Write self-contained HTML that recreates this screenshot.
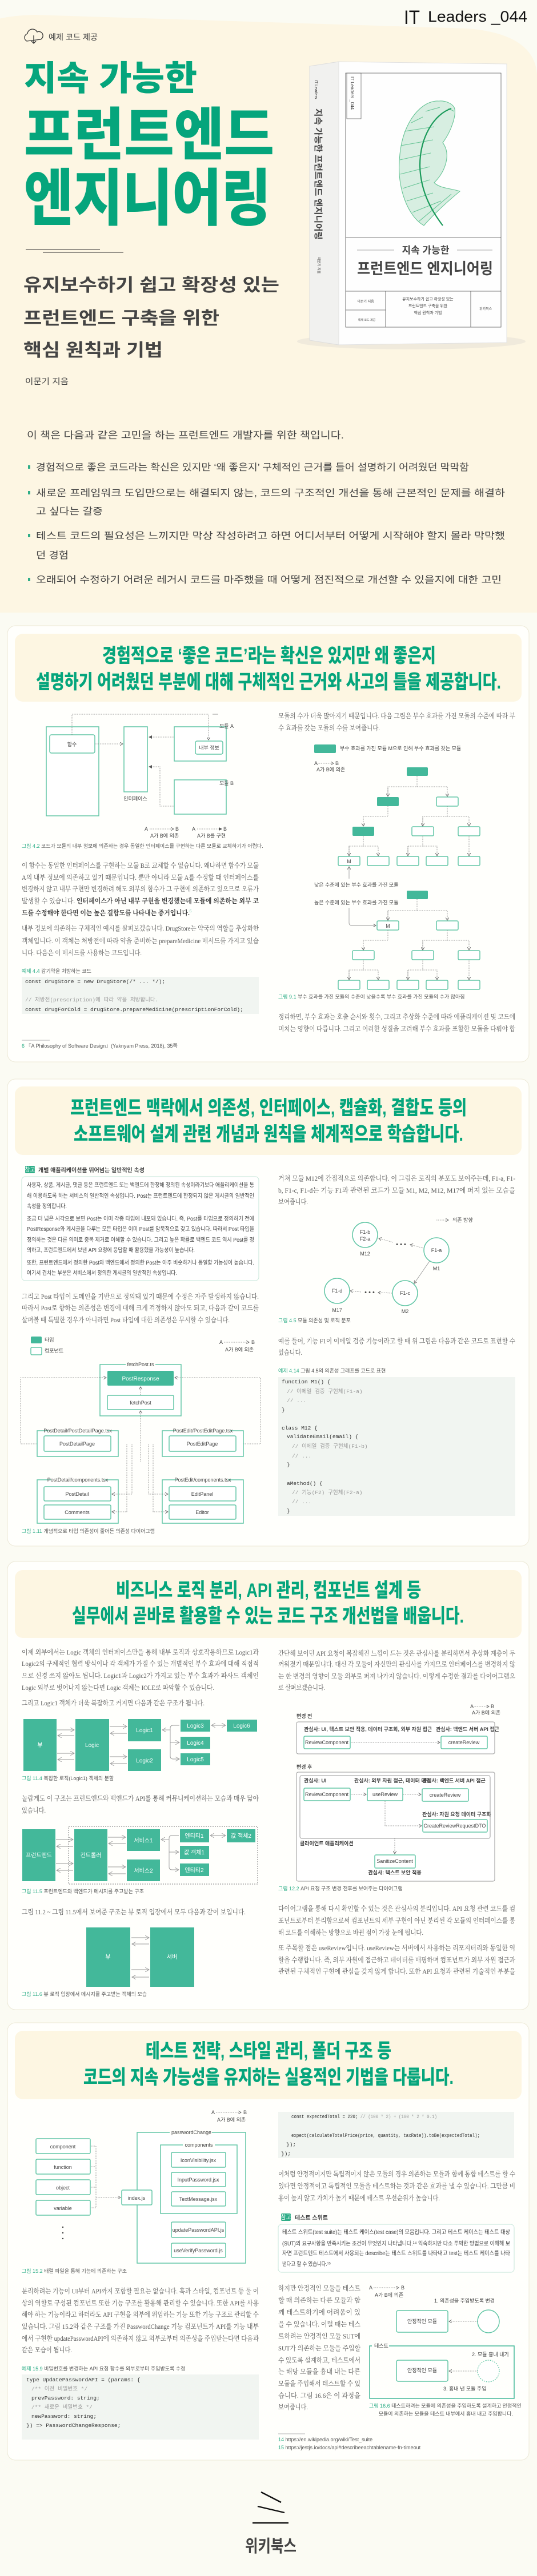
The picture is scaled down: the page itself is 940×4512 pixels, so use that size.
<!DOCTYPE html>
<html><head><meta charset="utf-8">
<style>
html,body{margin:0;padding:0;background:#fbfbf3;}
svg{display:block}
.sr{font-family:"Liberation Serif","Noto Serif CJK SC",serif;font-size:12px;fill:#5a5a5a}
.sn{font-family:"Liberation Sans","Noto Sans CJK KR",sans-serif;fill:#444}
.mo{font-family:"Liberation Mono","Noto Sans CJK KR",monospace;font-size:9.5px;fill:#333}
.cm{fill:#999}
.cap{font-family:"Liberation Sans","Noto Sans CJK KR",sans-serif;font-size:9px;fill:#555}
.g{fill:#2fae88}
.hd{font-family:"Liberation Sans","Noto Sans CJK KR",sans-serif;font-weight:900;fill:#05a57c}
.bx{fill:#fff;stroke:#62c6a6;stroke-width:1.5}
.fl{fill:#43b89a}
.dl{fill:none;stroke:#777;stroke-width:.8;stroke-dasharray:1.5 1.5}
.ln{fill:none;stroke:#999;stroke-width:.9}
.lb{font-family:"Liberation Sans","Noto Sans CJK KR",sans-serif;font-size:9px;fill:#444}
.wt{font-family:"Liberation Sans","Noto Sans CJK KR",sans-serif;font-size:10px;fill:#fff}
</style></head>
<body>
<svg width="940" height="4512" viewBox="0 0 940 4512" xmlns="http://www.w3.org/2000/svg">
<defs>
<marker id="a" viewBox="0 0 6 6" refX="5" refY="3" markerWidth="6" markerHeight="6" orient="auto" markerUnits="userSpaceOnUse"><path d="M0,0 L5,3 L0,6" fill="none" stroke="#666" stroke-width="0.9"/></marker>
<marker id="f" viewBox="0 0 6 6" refX="5" refY="3" markerWidth="6" markerHeight="6" orient="auto" markerUnits="userSpaceOnUse"><path d="M0,0 L6,3 L0,6z" fill="#555"/></marker>
<marker id="b" viewBox="0 0 8 8" refX="7" refY="4" markerWidth="8" markerHeight="8" orient="auto" markerUnits="userSpaceOnUse"><path d="M0,0 L7,4 L0,8" fill="none" stroke="#999" stroke-width="0.9"/></marker>
</defs>

<!-- HERO BACKGROUND -->
<rect x="0" y="0" width="940" height="4512" fill="#fbfbf3"/>
<path d="M-20,40 Q0,28 60,26 L820,50 Q935,60 940,130 L940,1073 L-20,1073 Z" fill="#fdf6e3"/>

<!-- IT Leaders -->
<text x="707" y="42" font-family="Liberation Sans" font-size="34" font-weight="300" fill="#111" textLength="28" lengthAdjust="spacingAndGlyphs">IT</text>
<text x="749" y="38" font-family="Liberation Sans" font-size="27" font-weight="300" fill="#111" textLength="174" lengthAdjust="spacingAndGlyphs">Leaders _044</text>

<!-- cloud icon -->
<path d="M47,72 a7,7 0 0 1 1,-13 a9,9 0 0 1 17,-3 a7,7 0 0 1 6,13 z" fill="none" stroke="#333" stroke-width="1.3"/>
<path d="M59,62 V76 M55,72 L59,76 L63,72" fill="none" stroke="#333" stroke-width="1.3"/>
<text x="85" y="70" class="sn" font-size="14" fill="#333" textLength="86" lengthAdjust="spacingAndGlyphs">예제 코드 제공</text>

<!-- title -->
<text x="42" y="158" class="hd" font-size="60" font-weight="700" textLength="303" lengthAdjust="spacingAndGlyphs">지속 가능한</text>
<text x="42" y="271" class="hd" font-size="100" font-weight="700" textLength="438" lengthAdjust="spacingAndGlyphs">프런트엔드</text>
<text x="42" y="385" class="hd" font-size="108" font-weight="700" textLength="432" lengthAdjust="spacingAndGlyphs">엔지니어링</text>
<line x1="45" y1="437" x2="175" y2="437" stroke="#333" stroke-width="1"/>
<line x1="75" y1="442" x2="216" y2="442" stroke="#333" stroke-width="1"/>
<text x="41" y="510" class="sn" font-size="31" font-weight="700" fill="#222" textLength="448" lengthAdjust="spacingAndGlyphs">유지보수하기 쉽고 확장성 있는</text>
<text x="41" y="568" class="sn" font-size="31" font-weight="700" fill="#222" textLength="343" lengthAdjust="spacingAndGlyphs">프런트엔드 구축을 위한</text>
<text x="41" y="624" class="sn" font-size="31" font-weight="700" fill="#222" textLength="244" lengthAdjust="spacingAndGlyphs">핵심 원칙과 기법</text>
<text x="44" y="673" class="sn" font-size="14" fill="#222" textLength="76" lengthAdjust="spacingAndGlyphs">이문기 지음</text>

<!-- BOOK -->
<ellipse cx="720" cy="598" rx="200" ry="14" fill="#e9e6d8" opacity=".7"/>
<path d="M542,116 L593,108 L593,604 L542,596 Z" fill="#f1f1ef" stroke="#ddd"/>
<path d="M593,108 L887,112 L887,600 L593,604 Z" fill="#fefefe" stroke="#e2e2e2"/>
<rect x="605" y="128" width="272" height="445" fill="none" stroke="#555" stroke-width=".8"/>
<rect x="607" y="128" width="25" height="80" fill="none" stroke="#555" stroke-width=".7"/>
<text transform="translate(614,134) rotate(90)" font-family="Liberation Sans" font-size="8" fill="#333">IT Leaders _044</text>
<text transform="translate(551,140) rotate(90)" font-family="Liberation Sans" font-size="7" fill="#333">IT Leaders</text>
<text transform="translate(552,190) rotate(90)" class="sn" font-size="15" font-weight="700" fill="#222" textLength="230" lengthAdjust="spacingAndGlyphs">지속 가능한 프런트엔드 엔지니어링</text>
<text transform="translate(556,450) rotate(90)" class="sn" font-size="6" fill="#555">이문기 지음</text>
<!-- leaf -->
<g fill="none" stroke="#4cb983" stroke-width="1.1" opacity=".85">
<path d="M768,177 C740,175 706,210 700,270 C693,330 715,380 742,395 C755,380 775,360 805,335 C790,330 770,330 760,320 C780,300 790,270 775,250 C790,230 800,200 795,188 C790,180 778,176 768,177 Z" fill="#a9dcc0" fill-opacity=".55"/>
<path d="M708,230 L760,222 M702,255 L758,245 M700,280 L754,268 M701,305 L752,292 M705,330 L752,315 M712,352 L758,338 M722,372 L772,352 M733,388 L790,340"/>
<path d="M720,215 L740,205 M745,195 L770,188 M785,190 L795,195"/>
</g>
<path d="M790,190 C760,200 735,240 735,290 C736,340 760,375 775,395" fill="none" stroke="#1a9a5a" stroke-width="2.2"/>
<line x1="605" y1="416" x2="877" y2="416" stroke="#555" stroke-width=".8"/>
<line x1="625" y1="438" x2="690" y2="438" stroke="#888" stroke-width=".7"/>
<line x1="800" y1="438" x2="862" y2="438" stroke="#888" stroke-width=".7"/>
<text x="745" y="444" text-anchor="middle" class="sn" font-size="17" font-weight="700" fill="#222">지속 가능한</text>
<text x="625" y="480" class="sn" font-size="27" font-weight="700" fill="#222" textLength="238" lengthAdjust="spacingAndGlyphs">프런트엔드 엔지니어링</text>
<line x1="605" y1="510" x2="877" y2="510" stroke="#555" stroke-width=".8"/>
<line x1="675" y1="510" x2="675" y2="573" stroke="#555" stroke-width=".8"/>
<line x1="824" y1="510" x2="824" y2="573" stroke="#555" stroke-width=".8"/>
<line x1="605" y1="543" x2="675" y2="543" stroke="#555" stroke-width=".8"/>
<text x="640" y="530" text-anchor="middle" class="sn" font-size="6" fill="#333">이문기 지음</text>
<text x="642" y="562" text-anchor="middle" class="sn" font-size="5" fill="#333">예제 코드 제공</text>
<text x="749" y="526" text-anchor="middle" class="sn" font-size="7" fill="#333">유지보수하기 쉽고 확장성 있는</text>
<text x="749" y="538" text-anchor="middle" class="sn" font-size="7" fill="#333">프런트엔드 구축을 위한</text>
<text x="749" y="550" text-anchor="middle" class="sn" font-size="7" fill="#333">핵심 원칙과 기법</text>
<text x="850" y="543" text-anchor="middle" class="sn" font-size="6" fill="#333">위키북스</text>

<!-- INTRO -->
<text x="47" y="768" class="sn" font-size="17" fill="#222" textLength="555" lengthAdjust="spacingAndGlyphs">이 책은 다음과 같은 고민을 하는 프런트엔드 개발자를 위한 책입니다.</text>
<g fill="#2fae88"><rect x="49" y="815" width="4" height="6"/><rect x="49" y="860" width="4" height="6"/><rect x="49" y="935" width="4" height="6"/><rect x="49" y="1012" width="4" height="6"/></g>
<g class="sn" font-size="16.5" fill="#222">
<text x="63" y="824" textLength="758" lengthAdjust="spacingAndGlyphs">경험적으로 좋은 코드라는 확신은 있지만 ‘왜 좋은지’ 구체적인 근거를 들어 설명하기 어려웠던 막막함</text>
<text x="63" y="869" textLength="821" lengthAdjust="spacingAndGlyphs">새로운 프레임워크 도입만으로는 해결되지 않는, 코드의 구조적인 개선을 통해 근본적인 문제를 해결하</text>
<text x="63" y="901" textLength="117" lengthAdjust="spacingAndGlyphs">고 싶다는 갈증</text>
<text x="63" y="944" textLength="821" lengthAdjust="spacingAndGlyphs">테스트 코드의 필요성은 느끼지만 막상 작성하려고 하면 어디서부터 어떻게 시작해야 할지 몰라 막막했</text>
<text x="63" y="978" textLength="57" lengthAdjust="spacingAndGlyphs">던 경험</text>
<text x="63" y="1021" textLength="815" lengthAdjust="spacingAndGlyphs">오래되어 수정하기 어려운 레거시 코드를 마주했을 때 어떻게 점진적으로 개선할 수 있을지에 대한 고민</text>
</g>

<!-- CARDS -->
<g fill="#fffffc" stroke="#ece8d6" stroke-width="1">
<rect x="13" y="1096" width="913" height="764" rx="14"/>
<rect x="13" y="1890" width="913" height="818" rx="14"/>
<rect x="13" y="2735" width="913" height="785" rx="14"/>
<rect x="13" y="3543" width="913" height="766" rx="14"/>
</g>
<g fill="#fdf6e2">
<rect x="26" y="1110" width="887" height="119" rx="14"/>
<rect x="26" y="1903" width="887" height="120" rx="14"/>
<rect x="26" y="2750" width="887" height="119" rx="14"/>
<rect x="26" y="3557" width="887" height="120" rx="14"/>
</g>
<g class="hd" font-size="34">
<text x="179" y="1160" textLength="584" lengthAdjust="spacingAndGlyphs">경험적으로 ‘좋은 코드’라는 확신은 있지만 왜 좋은지</text>
<text x="63" y="1206" textLength="814" lengthAdjust="spacingAndGlyphs">설명하기 어려웠던 부분에 대해 구체적인 근거와 사고의 틀을 제공합니다.</text>
<text x="123" y="1952" textLength="694" lengthAdjust="spacingAndGlyphs">프런트엔드 맥락에서 의존성, 인터페이스, 캡슐화, 결합도 등의</text>
<text x="129" y="1998" textLength="682" lengthAdjust="spacingAndGlyphs">소프트웨어 설계 관련 개념과 원칙을 체계적으로 학습합니다.</text>
<text x="203" y="2797" textLength="534" lengthAdjust="spacingAndGlyphs">비즈니스 로직 분리, API 관리, 컴포넌트 설계 등</text>
<text x="126" y="2842" textLength="686" lengthAdjust="spacingAndGlyphs">실무에서 곧바로 활용할 수 있는 코드 구조 개선법을 배웁니다.</text>
<text x="255" y="3604" textLength="430" lengthAdjust="spacingAndGlyphs">테스트 전략, 스타일 관리, 폴더 구조 등</text>
<text x="146" y="3650" textLength="648" lengthAdjust="spacingAndGlyphs">코드의 지속 가능성을 유지하는 실용적인 기법을 다룹니다.</text>
</g>

<!-- ================= CARD 1 ================= -->
<!-- diagram 4.2 -->
<rect x="81" y="1273" width="92" height="156" class="bx" fill="none"/>
<rect x="87" y="1287" width="79" height="32" rx="3" class="bx"/>
<text x="126" y="1307" text-anchor="middle" class="lb" font-size="10">함수</text>
<rect x="217" y="1273" width="41" height="114" class="bx"/>
<text x="237" y="1402" text-anchor="middle" class="lb">인터페이스</text>
<rect x="305" y="1273" width="91" height="60" class="bx"/>
<line x1="372" y1="1251" x2="382" y2="1251" stroke="#555" stroke-width=".6"/>
<text x="384" y="1275" class="lb">모듈 A</text>
<rect x="342" y="1298" width="48" height="23" rx="3" class="bx"/>
<text x="366" y="1313" text-anchor="middle" class="lb">내부 정보</text>
<rect x="305" y="1366" width="91" height="60" class="bx"/>
<text x="384" y="1375" class="lb">모듈 B</text>
<path d="M166,1303 H215" class="dl" marker-end="url(#a)"/>
<path d="M305,1291 H261" class="dl" marker-end="url(#f)"/>
<path d="M305,1412 H280 V1343 H261" class="dl" marker-end="url(#f)"/>
<path d="M126,1287 V1251 H365 V1296" class="dl" marker-end="url(#a)"/>
<text x="253" y="1455" class="lb">A</text><path d="M262,1452 H304" class="dl" marker-end="url(#a)"/><text x="307" y="1455" class="lb">B</text>
<text x="263" y="1467" class="lb" font-size="8">A가 B에 의존</text>
<text x="336" y="1455" class="lb">A</text><path d="M345,1452 H388" class="dl" marker-end="url(#f)"/><text x="391" y="1455" class="lb">B</text>
<text x="345" y="1467" class="lb" font-size="8">A가 B를 구현</text>
<text x="38" y="1485" class="cap"><tspan class="g">그림 4.2</tspan> 코드가 모듈의 내부 정보에 의존하는 경우 동일한 인터페이스를 구현하는 다른 모듈로 교체하기가 어렵다.</text>

<g class="sr">
<text x="38" y="1520" textLength="415" lengthAdjust="spacingAndGlyphs">이 함수는 동일한 인터페이스를 구현하는 모듈 B로 교체할 수 없습니다. 왜냐하면 함수가 모듈</text>
<text x="38" y="1541" textLength="415" lengthAdjust="spacingAndGlyphs">A의 내부 정보에 의존하고 있기 때문입니다. 뿐만 아니라 모듈 A를 수정할 때 인터페이스를</text>
<text x="38" y="1561" textLength="415" lengthAdjust="spacingAndGlyphs">변경하지 않고 내부 구현만 변경하려 해도 외부의 함수가 그 구현에 의존하고 있으므로 오류가</text>
<text x="38" y="1582" textLength="415" lengthAdjust="spacingAndGlyphs">발생할 수 있습니다. <tspan font-weight="700" fill="#333">인터페이스가 아닌 내부 구현을 변경했는데 모듈에 의존하는 외부 코</tspan></text>
<text x="38" y="1603" textLength="297" lengthAdjust="spacingAndGlyphs"><tspan font-weight="700" fill="#333">드를 수정해야 한다면 이는 높은 결합도를 나타내는 증거입니다.</tspan><tspan class="g" font-size="7" dy="-5">6</tspan></text>
<text x="38" y="1630" textLength="415" lengthAdjust="spacingAndGlyphs">내부 정보에 의존하는 구체적인 예시를 살펴보겠습니다. DrugStore는 약국의 역할을 추상화한</text>
<text x="38" y="1652" textLength="415" lengthAdjust="spacingAndGlyphs">객체입니다. 이 객체는 처방전에 따라 약을 준비하는 prepareMedicine 메서드를 가지고 있습</text>
<text x="38" y="1673" textLength="210" lengthAdjust="spacingAndGlyphs">니다. 다음은 이 메서드를 사용하는 코드입니다.</text>
</g>
<text x="38" y="1704" class="cap"><tspan class="g">예제 4.4</tspan> 감기약을 처방하는 코드</text>
<rect x="38" y="1711" width="415" height="65" fill="#f1f5f1"/>
<text x="44" y="1722" class="mo">const drugStore = new DrugStore(/* ... */);</text>
<text x="44" y="1754" class="mo cm">// 처방전(prescription)에 따라 약을 처방합니다.</text>
<text x="44" y="1771" class="mo">const drugForCold = drugStore.prepareMedicine(prescriptionForCold);</text>
<line x1="38" y1="1822" x2="87" y2="1822" stroke="#ccc" stroke-width="1.5"/>
<text x="38" y="1835" class="cap" font-size="8"><tspan class="g">6</tspan>  『A Philosophy of Software Design』(Yaknyam Press, 2018), 35쪽</text>

<!-- card1 right -->
<g class="sr">
<text x="487" y="1258" textLength="415" lengthAdjust="spacingAndGlyphs">모듈의 수가 더욱 많아지기 때문입니다. 다음 그림은 부수 효과를 가진 모듈의 수준에 따라 부</text>
<text x="487" y="1279" textLength="178" lengthAdjust="spacingAndGlyphs">수 효과를 갖는 모듈의 수를 보여줍니다.</text>
<text x="487" y="1785" textLength="415" lengthAdjust="spacingAndGlyphs">정리하면, 부수 효과는 호출 순서와 횟수, 그리고 추상화 수준에 따라 애플리케이션 및 코드에</text>
<text x="487" y="1806" textLength="415" lengthAdjust="spacingAndGlyphs">미치는 영향이 다릅니다. 그리고 이러한 성질을 고려해 부수 효과를 포함한 모듈을 다뤄야 합</text>
</g>
<rect x="550" y="1304" width="38" height="15" rx="2" class="fl"/>
<text x="595" y="1314" class="lb" font-size="7">부수 효과를 가진 모듈 M으로 인해 부수 효과를 갖는 모듈</text>
<text x="550" y="1340" class="lb" font-size="7">A</text><path d="M556,1337 H584" class="dl" marker-end="url(#a)"/><text x="587" y="1340" class="lb" font-size="7">B</text>
<text x="554" y="1351" class="lb" font-size="7">A가 B에 의존</text>
<!-- tree 1 -->
<g>
<rect x="712" y="1344" width="37" height="15" rx="2" class="fl"/>
<rect x="660" y="1396" width="38" height="16" rx="2" class="fl"/>
<rect x="764" y="1396" width="38" height="16" rx="2" class="bx"/>
<rect x="617" y="1448" width="38" height="16" rx="2" class="fl"/>
<rect x="721" y="1448" width="38" height="16" rx="2" class="bx"/>
<rect x="802" y="1448" width="38" height="16" rx="2" class="bx"/>
<rect x="592" y="1500" width="38" height="16" rx="2" class="bx"/>
<rect x="643" y="1500" width="38" height="16" rx="2" class="bx"/>
<rect x="695" y="1500" width="38" height="16" rx="2" class="bx"/>
<rect x="746" y="1500" width="38" height="16" rx="2" class="bx"/>
<rect x="802" y="1500" width="38" height="16" rx="2" class="bx"/>
<text x="611" y="1512" text-anchor="middle" class="lb">M</text>
<path d="M730,1359 V1378 H679 V1395 M730,1378 H783 V1395" class="dl" marker-end="url(#a)"/>
<path d="M679,1378 V1395" class="dl" marker-end="url(#a)"/>
<path d="M679,1412 V1430 H636 V1447" class="dl" marker-end="url(#a)"/>
<path d="M783,1412 V1430 H740 V1447 M783,1430 H821 V1447" class="dl" marker-end="url(#a)"/>
<path d="M740,1430 V1447" class="dl" marker-end="url(#a)"/>
<path d="M636,1464 V1482 H611 V1499 M636,1482 H662 V1499" class="dl" marker-end="url(#a)"/>
<path d="M611,1482 V1499" class="dl" marker-end="url(#a)"/>
<path d="M740,1464 V1482 H714 V1499 M740,1482 H765 V1499" class="dl" marker-end="url(#a)"/>
<path d="M714,1482 V1499" class="dl" marker-end="url(#a)"/>
<path d="M821,1464 V1499" class="dl" marker-end="url(#a)"/>
<path d="M611,1539 V1518" class="ln" marker-end="url(#a)"/>
<text x="550" y="1553" class="lb" font-size="8">낮은 수준에 있는 부수 효과를 가진 모듈</text>
</g>
<!-- tree 2 -->
<g>
<rect x="712" y="1560" width="37" height="15" rx="2" class="fl"/>
<text x="550" y="1584" class="lb" font-size="8">높은 수준에 있는 부수 효과를 가진 모듈</text>
<rect x="660" y="1613" width="38" height="16" rx="2" class="bx"/>
<text x="679" y="1625" text-anchor="middle" class="lb">M</text>
<rect x="764" y="1613" width="38" height="16" rx="2" class="bx"/>
<rect x="617" y="1665" width="38" height="16" rx="2" class="bx"/>
<rect x="721" y="1665" width="38" height="16" rx="2" class="bx"/>
<rect x="802" y="1665" width="38" height="16" rx="2" class="bx"/>
<rect x="592" y="1717" width="38" height="16" rx="2" class="bx"/>
<rect x="643" y="1717" width="38" height="16" rx="2" class="bx"/>
<rect x="695" y="1717" width="38" height="16" rx="2" class="bx"/>
<rect x="746" y="1717" width="38" height="16" rx="2" class="bx"/>
<rect x="802" y="1717" width="38" height="16" rx="2" class="bx"/>
<path d="M730,1575 V1595 H679 V1612 M730,1595 H783 V1612" class="dl" marker-end="url(#a)"/>
<path d="M679,1595 V1612" class="dl" marker-end="url(#a)"/>
<path d="M679,1629 V1647 H636 V1664" class="dl" marker-end="url(#a)"/>
<path d="M783,1629 V1647 H740 V1664 M783,1647 H821 V1664" class="dl" marker-end="url(#a)"/>
<path d="M740,1647 V1664" class="dl" marker-end="url(#a)"/>
<path d="M636,1681 V1699 H611 V1716 M636,1699 H662 V1716" class="dl" marker-end="url(#a)"/>
<path d="M611,1699 V1716" class="dl" marker-end="url(#a)"/>
<path d="M740,1681 V1699 H714 V1716 M740,1699 H765 V1716" class="dl" marker-end="url(#a)"/>
<path d="M714,1699 V1716" class="dl" marker-end="url(#a)"/>
<path d="M821,1681 V1716" class="dl" marker-end="url(#a)"/>
<path d="M611,1590 V1616 Q611,1621 616,1621 H658" class="ln" marker-end="url(#a)"/>
</g>
<text x="487" y="1749" class="cap"><tspan class="g">그림 9.1</tspan> 부수 효과를 가진 모듈의 수준이 낮을수록 부수 효과를 가진 모듈의 수가 많아짐</text>

<!-- ================= CARD 2 ================= -->
<rect x="44" y="2042" width="17" height="13" rx="2" fill="#2fae88"/>
<text x="52.5" y="2052" text-anchor="middle" class="wt" font-size="8">참고</text>
<text x="67" y="2053" class="sn" font-size="10" font-weight="700" fill="#333">개별 애플리케이션을 뛰어넘는 일반적인 속성</text>
<rect x="38" y="2061" width="415" height="182" rx="6" fill="#fff" stroke="#cfeadf" stroke-width="1.2"/>
<g class="sn" font-size="10" fill="#555">
<text x="47" y="2079" textLength="398" lengthAdjust="spacingAndGlyphs">사용자, 상품, 게시글, 댓글 등은 프런트엔드 또는 백엔드에 한정해 정의된 속성이라기보다 애플리케이션을 통</text>
<text x="47" y="2098" textLength="398" lengthAdjust="spacingAndGlyphs">해 이용하도록 하는 서비스의 일반적인 속성입니다. Post는 프런트엔드에 한정되지 않은 게시글의 일반적인</text>
<text x="47" y="2116" textLength="70" lengthAdjust="spacingAndGlyphs">속성을 정의합니다.</text>
<text x="47" y="2138" textLength="398" lengthAdjust="spacingAndGlyphs">조금 더 넓은 시각으로 보면 Post는 이미 각종 타입에 내포돼 있습니다. 즉, Post를 타입으로 정의하기 전에</text>
<text x="47" y="2156" textLength="398" lengthAdjust="spacingAndGlyphs">PostResponse와 게시글을 다루는 모든 타입은 이미 Post를 암묵적으로 갖고 있습니다. 따라서 Post 타입을</text>
<text x="47" y="2175" textLength="398" lengthAdjust="spacingAndGlyphs">정의하는 것은 다른 의미로 중복 제거로 이해할 수 있습니다. 그리고 높은 확률로 백엔드 코드 역시 Post를 정</text>
<text x="47" y="2193" textLength="294" lengthAdjust="spacingAndGlyphs">의하고, 프런트엔드에서 보낸 API 요청에 응답할 때 활용했을 가능성이 높습니다.</text>
<text x="47" y="2215" textLength="398" lengthAdjust="spacingAndGlyphs">또한, 프런트엔드에서 정의한 Post와 백엔드에서 정의한 Post는 아주 비슷하거나 동일할 가능성이 높습니다.</text>
<text x="47" y="2233" textLength="263" lengthAdjust="spacingAndGlyphs">여기서 겹치는 부분은 서비스에서 정의한 게시글의 일반적인 속성입니다.</text>
</g>
<g class="sr">
<text x="38" y="2275" textLength="415" lengthAdjust="spacingAndGlyphs">그리고 Post 타입이 도메인을 기반으로 정의돼 있기 때문에 수정은 자주 발생하지 않습니다.</text>
<text x="38" y="2295" textLength="415" lengthAdjust="spacingAndGlyphs">따라서 Post로 향하는 의존성은 변경에 대해 크게 걱정하지 않아도 되고, 다음과 같이 코드를</text>
<text x="38" y="2316" textLength="364" lengthAdjust="spacingAndGlyphs">살펴볼 때 특별한 경우가 아니라면 Post 타입에 대한 의존성은 무시할 수 있습니다.</text>
</g>
<!-- diagram 1.11 -->
<rect x="54" y="2341" width="19" height="12" rx="2" class="fl"/><text x="78" y="2350" class="lb" font-size="7">타입</text>
<rect x="54" y="2360" width="19" height="13" rx="2" class="bx"/><text x="78" y="2369" class="lb" font-size="7">컴포넌트</text>
<text x="384" y="2354" class="lb" font-size="8">A</text><path d="M392,2351 H436" class="dl" marker-end="url(#a)"/><text x="440" y="2354" class="lb" font-size="8">B</text>
<text x="394" y="2367" class="lb" font-size="7">A가 B에 의존</text>
<rect x="175" y="2390" width="142" height="90" class="bx" fill="none" stroke-width="1.3"/>
<rect x="220" y="2385" width="52" height="10" fill="#fffffc"/>
<text x="246" y="2393" text-anchor="middle" class="lb" font-size="7">fetchPost.ts</text>
<rect x="188" y="2401" width="116" height="26" rx="2" class="fl"/>
<text x="246" y="2418" text-anchor="middle" class="wt">PostResponse</text>
<rect x="188" y="2444" width="116" height="25" rx="2" class="bx"/>
<text x="246" y="2460" text-anchor="middle" class="lb" font-size="10">fetchPost</text>
<path d="M246,2443 V2429" class="dl" marker-end="url(#a)"/>
<path d="M246,2560 V2471" class="dl" marker-end="url(#a)"/>
<path d="M65,2529 H36 V2413 H186" class="dl" marker-end="url(#a)"/>
<path d="M426,2529 H456 V2413 H306" class="dl" marker-end="url(#a)"/>
<rect x="65" y="2506" width="142" height="45" class="bx" fill="none" stroke-width="1.3"/>
<rect x="85" y="2501" width="102" height="10" fill="#fffffc"/>
<text x="136" y="2509" text-anchor="middle" class="lb" font-size="6.5">PostDetail/PostDetailPage.tsx</text>
<rect x="77" y="2515" width="117" height="27" rx="2" class="bx"/>
<text x="135" y="2532" text-anchor="middle" class="lb" font-size="10">PostDetailPage</text>
<rect x="284" y="2506" width="142" height="45" class="bx" fill="none" stroke-width="1.3"/>
<rect x="307" y="2501" width="96" height="10" fill="#fffffc"/>
<text x="355" y="2509" text-anchor="middle" class="lb" font-size="6.5">PostEdit/PostEditPage.tsx</text>
<rect x="296" y="2515" width="117" height="27" rx="2" class="bx"/>
<text x="354" y="2532" text-anchor="middle" class="lb" font-size="10">PostEditPage</text>
<rect x="65" y="2592" width="142" height="76" class="bx" fill="none" stroke-width="1.3"/>
<rect x="89" y="2587" width="94" height="10" fill="#fffffc"/>
<text x="136" y="2595" text-anchor="middle" class="lb" font-size="6.5">PostDetail/components.tsx</text>
<rect x="77" y="2604" width="117" height="25" rx="2" class="bx"/><text x="135" y="2620" text-anchor="middle" class="lb" font-size="10">PostDetail</text>
<rect x="77" y="2636" width="117" height="25" rx="2" class="bx"/><text x="135" y="2652" text-anchor="middle" class="lb" font-size="10">Comments</text>
<rect x="284" y="2592" width="142" height="76" class="bx" fill="none" stroke-width="1.3"/>
<rect x="311" y="2587" width="88" height="10" fill="#fffffc"/>
<text x="355" y="2595" text-anchor="middle" class="lb" font-size="6.5">PostEdit/components.tsx</text>
<rect x="296" y="2604" width="117" height="25" rx="2" class="bx"/><text x="354" y="2620" text-anchor="middle" class="lb" font-size="10">EditPanel</text>
<rect x="296" y="2636" width="117" height="25" rx="2" class="bx"/><text x="354" y="2652" text-anchor="middle" class="lb" font-size="10">Editor</text>
<path d="M231,2530 V2617 H196" class="dl" marker-end="url(#a)"/>
<path d="M222,2530 V2648 H196" class="dl" marker-end="url(#a)"/>
<path d="M260,2530 V2617 H294" class="dl" marker-end="url(#a)"/>
<path d="M268,2530 V2648 H294" class="dl" marker-end="url(#a)"/>
<text x="38" y="2685" class="cap"><tspan class="g">그림 1.11</tspan> 개념적으로 타입 의존성이 줄어든 의존성 다이어그램</text>

<!-- card2 right -->
<g class="sr">
<text x="487" y="2068" textLength="415" lengthAdjust="spacingAndGlyphs">거쳐 모듈 M12에 간접적으로 의존합니다. 이 그림은 로직의 분포도 보여주는데, F1-a, F1-</text>
<text x="487" y="2089" textLength="415" lengthAdjust="spacingAndGlyphs">b, F1-c, F1-d는 기능 F1과 관련된 코드가 모듈 M1, M2, M12, M17에 퍼져 있는 모습을</text>
<text x="487" y="2109" textLength="52" lengthAdjust="spacingAndGlyphs">보여줍니다.</text>
<text x="487" y="2353" textLength="415" lengthAdjust="spacingAndGlyphs">예를 들어, 기능 F1이 이메일 검증 기능이라고 할 때 위 그림은 다음과 같은 코드로 표현할 수</text>
<text x="487" y="2373" textLength="42" lengthAdjust="spacingAndGlyphs">있습니다.</text>
</g>
<path d="M764,2137 H785" class="dl" marker-end="url(#a)"/><text x="792" y="2140" class="lb" font-size="7">의존 방향</text>
<circle cx="639" cy="2163" r="22" class="bx"/>
<text x="639" y="2161" text-anchor="middle" class="lb" font-size="8">F1-b</text>
<text x="639" y="2173" text-anchor="middle" class="lb" font-size="8">F2-a</text>
<text x="639" y="2199" text-anchor="middle" class="lb" font-size="9">M12</text>
<circle cx="764" cy="2190" r="22" class="bx"/>
<text x="764" y="2193" text-anchor="middle" class="lb" font-size="8">F1-a</text>
<text x="764" y="2225" text-anchor="middle" class="lb" font-size="9">M1</text>
<circle cx="590" cy="2261" r="22" class="bx"/>
<text x="590" y="2264" text-anchor="middle" class="lb" font-size="8">F1-d</text>
<text x="590" y="2298" text-anchor="middle" class="lb" font-size="9">M17</text>
<circle cx="709" cy="2265" r="22" class="bx"/>
<text x="709" y="2268" text-anchor="middle" class="lb" font-size="8">F1-c</text>
<text x="709" y="2300" text-anchor="middle" class="lb" font-size="9">M2</text>
<path d="M741,2186 L718,2180" class="dl" marker-end="url(#a)"/>
<path d="M688,2176 L663,2169" class="dl" marker-end="url(#a)"/>
<text x="702" y="2183" text-anchor="middle" font-size="11" fill="#444" font-family="Liberation Sans">• • •</text>
<path d="M752,2209 L725,2248" class="ln" marker-end="url(#a)"/>
<path d="M686,2265 L662,2264" class="dl" marker-end="url(#a)"/>
<path d="M632,2263 L613,2261" class="dl" marker-end="url(#a)"/>
<text x="647" y="2267" text-anchor="middle" font-size="11" fill="#444" font-family="Liberation Sans">• • •</text>
<text x="487" y="2316" class="cap"><tspan class="g">그림 4.5</tspan> 모듈 의존성 및 로직 분포</text>
<text x="487" y="2404" class="cap"><tspan class="g">예제 4.14</tspan> 그림 4.5의 의존성 그래프를 코드로 표현</text>
<rect x="487" y="2412" width="415" height="243" fill="#f1f5f1"/>
<g class="mo">
<text x="493" y="2423">function M1() {</text>
<text x="502" y="2440" class="mo cm">// 이메일 검증 구현체(F1-a)</text>
<text x="502" y="2456" class="mo cm">// ...</text>
<text x="493" y="2472">}</text>
<text x="493" y="2504">class M12 {</text>
<text x="502" y="2519">validateEmail(email) {</text>
<text x="511" y="2536" class="mo cm">// 이메일 검증 구현체(F1-b)</text>
<text x="511" y="2553" class="mo cm">// ...</text>
<text x="502" y="2568">}</text>
<text x="502" y="2601">aMethod() {</text>
<text x="511" y="2617" class="mo cm">// 기능(F2) 구현체(F2-a)</text>
<text x="511" y="2633" class="mo cm">// ...</text>
<text x="502" y="2649">}</text>
</g>

<!-- ================= CARD 3 ================= -->
<g class="sr">
<text x="38" y="2898" textLength="415" lengthAdjust="spacingAndGlyphs">이제 외부에서는 Logic 객체의 인터페이스만을 통해 내부 로직과 상호작용하므로 Logic1과</text>
<text x="38" y="2918" textLength="415" lengthAdjust="spacingAndGlyphs">Logic2의 구체적인 협력 방식이나 각 객체가 가질 수 있는 개별적인 부수 효과에 대해 직접적</text>
<text x="38" y="2939" textLength="415" lengthAdjust="spacingAndGlyphs">으로 신경 쓰지 않아도 됩니다. Logic1과 Logic2가 가지고 있는 부수 효과가 파사드 객체인</text>
<text x="38" y="2960" textLength="337" lengthAdjust="spacingAndGlyphs">Logic 외부로 벗어나지 않는다면 Logic 객체는 IOLE로 파악할 수 있습니다.</text>
<text x="38" y="2987" textLength="320" lengthAdjust="spacingAndGlyphs">그리고 Logic1 객체가 더욱 복잡하고 커지면 다음과 같은 구조가 됩니다.</text>
<text x="38" y="3154" textLength="415" lengthAdjust="spacingAndGlyphs">놀랍게도 이 구조는 프런트엔드와 백엔드가 API를 통해 커뮤니케이션하는 모습과 매우 닮아</text>
<text x="38" y="3175" textLength="42" lengthAdjust="spacingAndGlyphs">있습니다.</text>
<text x="38" y="3353" textLength="392" lengthAdjust="spacingAndGlyphs">그림 11.2 ~ 그림 11.5에서 보여준 구조는 뷰 로직 입장에서 모두 다음과 같이 보입니다.</text>
</g>
<!-- 11.4 -->
<g>
<rect x="41" y="3011" width="58" height="91" class="fl"/><text x="70" y="3060" text-anchor="middle" class="wt">뷰</text>
<rect x="132" y="3011" width="59" height="91" class="fl"/><text x="161" y="3060" text-anchor="middle" class="wt">Logic</text>
<rect x="224" y="3011" width="58" height="39" class="fl"/><text x="253" y="3034" text-anchor="middle" class="wt">Logic1</text>
<rect x="224" y="3064" width="58" height="38" class="fl"/><text x="253" y="3087" text-anchor="middle" class="wt">Logic2</text>
<rect x="316" y="3012" width="52" height="21" class="fl"/><text x="342" y="3026" text-anchor="middle" class="wt" font-size="9">Logic3</text>
<rect x="397" y="3012" width="53" height="21" class="fl"/><text x="423" y="3026" text-anchor="middle" class="wt" font-size="9">Logic6</text>
<rect x="316" y="3042" width="52" height="21" class="fl"/><text x="342" y="3056" text-anchor="middle" class="wt" font-size="9">Logic4</text>
<rect x="316" y="3071" width="52" height="21" class="fl"/><text x="342" y="3085" text-anchor="middle" class="wt" font-size="9">Logic5</text>
<g class="ln" stroke="#aaa">
<path d="M100,3030 H130" marker-end="url(#b)"/><path d="M130,3040 H101" marker-end="url(#b)"/>
<path d="M100,3071 H130" marker-end="url(#b)"/><path d="M130,3082 H101" marker-end="url(#b)"/>
<path d="M192,3024 H222" marker-end="url(#b)"/><path d="M222,3036 H193" marker-end="url(#b)"/>
<path d="M192,3077 H222" marker-end="url(#b)"/><path d="M222,3089 H193" marker-end="url(#b)"/>
<path d="M298,3030 H284" marker-end="url(#b)"/>
<path d="M314,3022 H303 Q298,3022 298,3027 V3076 Q298,3081 303,3081 H314" marker-end="url(#b)"/>
<path d="M298,3052 H314" marker-end="url(#b)"/>
<path d="M370,3022 H395" marker-end="url(#b)"/><path d="M395,3022 H370" marker-end="url(#b)"/>
</g>
</g>
<text x="38" y="3118" class="cap"><tspan class="g">그림 11.4</tspan> 복잡한 로직(Logic1) 객체의 분할</text>
<!-- 11.5 -->
<g>
<rect x="120" y="3199" width="331" height="101" fill="none" stroke="#777" stroke-width="1" stroke-dasharray="2 2"/>
<rect x="39" y="3204" width="58" height="91" class="fl"/><text x="68" y="3253" text-anchor="middle" class="wt">프런트엔드</text>
<rect x="130" y="3204" width="58" height="91" class="fl"/><text x="159" y="3253" text-anchor="middle" class="wt">컨트롤러</text>
<rect x="222" y="3204" width="58" height="38" class="fl"/><text x="251" y="3227" text-anchor="middle" class="wt">서비스1</text>
<rect x="222" y="3257" width="58" height="38" class="fl"/><text x="251" y="3280" text-anchor="middle" class="wt">서비스2</text>
<rect x="315" y="3204" width="51" height="23" class="fl"/><text x="340" y="3219" text-anchor="middle" class="wt" font-size="9">엔티티1</text>
<rect x="397" y="3204" width="50" height="23" class="fl"/><text x="422" y="3219" text-anchor="middle" class="wt" font-size="9">값 객체2</text>
<rect x="315" y="3233" width="51" height="23" class="fl"/><text x="340" y="3248" text-anchor="middle" class="wt" font-size="9">값 객체1</text>
<rect x="315" y="3264" width="51" height="22" class="fl"/><text x="340" y="3279" text-anchor="middle" class="wt" font-size="9">엔티티2</text>
<g class="ln" stroke="#aaa">
<path d="M98,3222 H128" marker-end="url(#b)"/><path d="M128,3234 H99" marker-end="url(#b)"/>
<path d="M98,3264 H128" marker-end="url(#b)"/><path d="M128,3276 H99" marker-end="url(#b)"/>
<path d="M189,3218 H220" marker-end="url(#b)"/><path d="M220,3229 H190" marker-end="url(#b)"/>
<path d="M189,3270 H220" marker-end="url(#b)"/><path d="M220,3282 H190" marker-end="url(#b)"/>
<path d="M296,3222 H282" marker-end="url(#b)"/>
<path d="M313,3215 H301 Q296,3215 296,3220 V3270 Q296,3275 301,3275 H313" marker-end="url(#b)"/>
<path d="M296,3244 H313" marker-end="url(#b)"/>
<path d="M368,3215 H395" marker-end="url(#b)"/><path d="M395,3215 H368" marker-end="url(#b)"/>
</g>
</g>
<text x="38" y="3316" class="cap"><tspan class="g">그림 11.5</tspan> 프런트엔드와 백엔드가 메시지를 주고받는 구조</text>
<!-- 11.6 -->
<rect x="151" y="3376" width="77" height="104" class="fl"/><text x="189" y="3431" text-anchor="middle" class="wt">뷰</text>
<rect x="263" y="3376" width="77" height="104" class="fl"/><text x="301" y="3431" text-anchor="middle" class="wt">서버</text>
<g class="ln" stroke="#aaa">
<path d="M230,3394 H261" marker-end="url(#b)"/><path d="M261,3405 H231" marker-end="url(#b)"/>
<path d="M230,3450 H261" marker-end="url(#b)"/><path d="M261,3463 H231" marker-end="url(#b)"/>
</g>
<text x="38" y="3496" class="cap"><tspan class="g">그림 11.6</tspan> 뷰 로직 입장에서 메시지를 주고받는 객체의 모습</text>

<!-- card3 right -->
<g class="sr">
<text x="487" y="2900" textLength="415" lengthAdjust="spacingAndGlyphs">간단해 보이던 API 요청이 복잡해진 느낌이 드는 것은 관심사를 분리하면서 추상화 계층이 두</text>
<text x="487" y="2919" textLength="415" lengthAdjust="spacingAndGlyphs">꺼워졌기 때문입니다. 대신 각 모듈이 자신만의 관심사를 가지므로 인터페이스를 변경하지 않</text>
<text x="487" y="2940" textLength="415" lengthAdjust="spacingAndGlyphs">는 한 변경의 영향이 모듈 외부로 퍼져 나가지 않습니다. 이렇게 수정한 결과를 다이어그램으</text>
<text x="487" y="2960" textLength="82" lengthAdjust="spacingAndGlyphs">로 살펴보겠습니다.</text>
<text x="487" y="3347" textLength="415" lengthAdjust="spacingAndGlyphs">다이어그램을 통해 다시 확인할 수 있는 것은 관심사의 분리입니다. API 요청 관련 코드를 컴</text>
<text x="487" y="3368" textLength="415" lengthAdjust="spacingAndGlyphs">포넌트로부터 분리함으로써 컴포넌트의 세부 구현이 아닌 분리된 각 모듈의 인터페이스를 통</text>
<text x="487" y="3389" textLength="254" lengthAdjust="spacingAndGlyphs">해 코드를 이해하는 방향으로 바뀐 점이 가장 눈에 띕니다.</text>
<text x="487" y="3416" textLength="415" lengthAdjust="spacingAndGlyphs">또 주목할 점은 useReview입니다. useReview는 서버에서 사용하는 리포지터리와 동일한 역</text>
<text x="487" y="3437" textLength="415" lengthAdjust="spacingAndGlyphs">할을 수행합니다. 즉, 외부 자원에 접근하고 데이터를 매핑하며 컴포넌트가 외부 자원 접근과</text>
<text x="487" y="3457" textLength="415" lengthAdjust="spacingAndGlyphs">관련된 구체적인 구현에 관심을 갖지 않게 합니다. 또한 API 요청과 관련된 기술적인 부분을</text>
</g>
<!-- 12.2 -->
<text x="823" y="2992" class="lb" font-size="7">A</text><path d="M829,2989 H856" class="dl" marker-end="url(#a)"/><text x="859" y="2992" class="lb" font-size="7">B</text>
<text x="826" y="3003" class="lb" font-size="7">A가 B에 의존</text>
<text x="519" y="3009" class="lb" font-size="8" font-weight="700">변경 전</text>
<rect x="519" y="3016" width="347" height="56" rx="3" fill="#fff" stroke="#999"/>
<text x="532" y="3032" class="lb" font-size="7.5" font-weight="700">관심사: UI, 텍스트 보안 적용, 데이터 구조화, 외부 자원 접근</text>
<text x="763" y="3032" class="lb" font-size="7.5" font-weight="700">관심사: 백엔드 서버 API 접근</text>
<rect x="532" y="3041" width="81" height="22" rx="2" class="bx"/><text x="572" y="3055" text-anchor="middle" class="lb" font-size="8">ReviewComponent</text>
<rect x="772" y="3041" width="81" height="22" rx="2" class="bx"/><text x="812" y="3055" text-anchor="middle" class="lb" font-size="8">createReview</text>
<path d="M614,3052 H770" class="dl" marker-end="url(#a)"/>
<text x="519" y="3098" class="lb" font-size="8" font-weight="700">변경 후</text>
<rect x="519" y="3104" width="347" height="191" rx="3" fill="#fff" stroke="#999"/>
<rect x="525" y="3110" width="333" height="110" rx="3" fill="none" stroke="#999"/>
<text x="532" y="3122" class="lb" font-size="7.5" font-weight="700">관심사: UI</text>
<text x="620" y="3122" class="lb" font-size="7.5" font-weight="700">관심사: 외부 자원 접근, 데이터 매핑</text>
<text x="739" y="3122" class="lb" font-size="7.5" font-weight="700">관심사: 백엔드 서버 API 접근</text>
<rect x="532" y="3132" width="81" height="22" rx="2" class="bx"/><text x="572" y="3146" text-anchor="middle" class="lb" font-size="8">ReviewComponent</text>
<rect x="643" y="3132" width="62" height="22" rx="2" class="bx"/><text x="674" y="3146" text-anchor="middle" class="lb" font-size="8">useReview</text>
<rect x="739" y="3133" width="81" height="22" rx="2" class="bx"/><text x="779" y="3147" text-anchor="middle" class="lb" font-size="8">createReview</text>
<path d="M614,3143 H641" class="dl" marker-end="url(#a)"/>
<path d="M706,3143 H737" class="dl" marker-end="url(#a)"/>
<text x="739" y="3181" class="lb" font-size="7.5" font-weight="700">관심사: 자원 요청 데이터 구조화</text>
<rect x="740" y="3187" width="113" height="22" rx="2" class="bx"/><text x="796" y="3201" text-anchor="middle" class="lb" font-size="8">CreateReviewRequestDTO</text>
<path d="M674,3155 V3198 H738" class="dl" marker-end="url(#a)"/>
<text x="525" y="3232" class="lb" font-size="7.5" font-weight="700">클라이언트 애플리케이션</text>
<path d="M691,3220 V3247" class="dl" marker-end="url(#a)"/>
<rect x="656" y="3249" width="71" height="23" rx="2" class="bx"/><text x="691" y="3263" text-anchor="middle" class="lb" font-size="8">SanitizeContent</text>
<text x="691" y="3283" text-anchor="middle" class="lb" font-size="7.5" font-weight="700">관심사: 텍스트 보안 적용</text>
<text x="487" y="3311" class="cap"><tspan class="g">그림 12.2</tspan> API 요청 구조 변경 전후를 보여주는 다이어그램</text>

<!-- ================= CARD 4 ================= -->
<text x="370" y="3703" class="lb" font-size="8">A</text><path d="M378,3700 H422" class="dl" marker-end="url(#a)"/><text x="426" y="3703" class="lb" font-size="8">B</text>
<text x="380" y="3716" class="lb" font-size="7">A가 B에 의존</text>
<rect x="240" y="3735" width="190" height="229" class="bx" fill="none" stroke-width="1.3"/>
<rect x="297" y="3730" width="74" height="10" fill="#fffffc"/>
<text x="335" y="3738" text-anchor="middle" class="lb" font-size="8">passwordChange</text>
<rect x="281" y="3757" width="134" height="120" class="bx" fill="none" stroke-width="1.3"/>
<rect x="320" y="3752" width="56" height="10" fill="#fffffc"/>
<text x="348" y="3760" text-anchor="middle" class="lb" font-size="8">components</text>
<rect x="300" y="3770" width="95" height="26" rx="2" class="bx"/><text x="347" y="3787" text-anchor="middle" class="lb">IconVisibility.jsx</text>
<rect x="300" y="3805" width="95" height="25" rx="2" class="bx"/><text x="347" y="3821" text-anchor="middle" class="lb">InputPassword.jsx</text>
<rect x="300" y="3839" width="95" height="25" rx="2" class="bx"/><text x="347" y="3855" text-anchor="middle" class="lb">TextMessage.jsx</text>
<rect x="300" y="3892" width="95" height="27" rx="2" class="bx"/><text x="347" y="3909" text-anchor="middle" class="lb" font-size="8">updatePasswordAPI.js</text>
<rect x="300" y="3929" width="95" height="25" rx="2" class="bx"/><text x="347" y="3945" text-anchor="middle" class="lb" font-size="8">useVerifyPassword.js</text>
<rect x="63" y="3746" width="95" height="26" rx="2" class="bx"/><text x="110" y="3763" text-anchor="middle" class="lb" font-size="10">component</text>
<rect x="63" y="3782" width="95" height="26" rx="2" class="bx"/><text x="110" y="3799" text-anchor="middle" class="lb" font-size="10">function</text>
<rect x="63" y="3818" width="95" height="26" rx="2" class="bx"/><text x="110" y="3835" text-anchor="middle" class="lb" font-size="10">object</text>
<rect x="63" y="3854" width="95" height="26" rx="2" class="bx"/><text x="110" y="3871" text-anchor="middle" class="lb" font-size="10">variable</text>
<g fill="#333"><circle cx="110" cy="3901" r="1.2"/><circle cx="110" cy="3911" r="1.2"/><circle cx="110" cy="3921" r="1.2"/></g>
<path d="M159,3759 H168 V3867 H159 M159,3795 H168 M159,3831 H168" class="dl"/>
<path d="M168,3849 H211" class="dl" marker-end="url(#a)"/>
<rect x="213" y="3836" width="53" height="26" rx="2" class="bx"/><text x="239" y="3853" text-anchor="middle" class="lb" font-size="10">index.js</text>
<text x="38" y="3981" class="cap"><tspan class="g">그림 15.2</tspan> 배럴 파일을 통해 기능에 의존하는 구조</text>
<g class="sr">
<text x="38" y="4017" textLength="415" lengthAdjust="spacingAndGlyphs">분리하려는 기능이 UI부터 API까지 포함할 필요는 없습니다. 훅과 스타일, 컴포넌트 등 둘 이</text>
<text x="38" y="4038" textLength="415" lengthAdjust="spacingAndGlyphs">상의 역할로 구성된 컴포넌트 또한 기능 구조를 활용해 관리할 수 있습니다. 또한 API를 사용</text>
<text x="38" y="4058" textLength="415" lengthAdjust="spacingAndGlyphs">해야 하는 기능이라고 하더라도 API 구현을 외부에 위임하는 기능 또한 기능 구조로 관리할 수</text>
<text x="38" y="4079" textLength="415" lengthAdjust="spacingAndGlyphs">있습니다. 그림 15.2와 같은 구조를 가진 PasswordChange 기능 컴포넌트가 API를 기능 내부</text>
<text x="38" y="4100" textLength="415" lengthAdjust="spacingAndGlyphs">에서 구현한 updatePasswordAPI에 의존하지 않고 외부로부터 의존성을 주입받는다면 다음과</text>
<text x="38" y="4120" textLength="88" lengthAdjust="spacingAndGlyphs">같은 모습이 됩니다.</text>
</g>
<text x="38" y="4152" class="cap"><tspan class="g">예제 15.9</tspan> 비밀번호를 변경하는 API 요청 함수를 외부로부터 주입받도록 수정</text>
<rect x="38" y="4159" width="415" height="114" fill="#f1f5f1"/>
<g class="mo">
<text x="46" y="4171">type UpdatePasswordAPI = (params: {</text>
<text x="55" y="4187" class="mo cm">/** 이전 비밀번호 */</text>
<text x="55" y="4203">prevPassword: string;</text>
<text x="55" y="4219" class="mo cm">/** 새로운 비밀번호 */</text>
<text x="55" y="4235">newPassword: string;</text>
<text x="46" y="4251">}) =&gt; PasswordChangeResponse;</text>
</g>

<!-- card4 right -->
<rect x="487" y="3699" width="413" height="81" fill="#f1f5f1"/>
<g class="mo">
<text x="510" y="3710" textLength="255" lengthAdjust="spacingAndGlyphs">const expectedTotal = 220; <tspan class="cm">// (100 * 2) + (100 * 2 * 0.1)</tspan></text>
<text x="510" y="3743" textLength="330" lengthAdjust="spacingAndGlyphs">expect(calculateTotalPrice(price, quantity, taxRate)).toBe(expectedTotal);</text>
<text x="501" y="3759">});</text>
<text x="492" y="3775">});</text>
</g>
<g class="sr">
<text x="487" y="3812" textLength="415" lengthAdjust="spacingAndGlyphs">이처럼 안정적이지만 독립적이지 않은 모듈의 경우 의존하는 모듈과 함께 통합 테스트를 할 수</text>
<text x="487" y="3833" textLength="415" lengthAdjust="spacingAndGlyphs">있다면 안정적이고 독립적인 모듈을 테스트하는 것과 같은 효과를 낼 수 있습니다. 그만큼 비</text>
<text x="487" y="3854" textLength="283" lengthAdjust="spacingAndGlyphs">용이 높지 않고 가치가 높기 때문에 테스트 우선순위가 높습니다.</text>
</g>
<rect x="492" y="3877" width="17" height="13" rx="2" fill="#2fae88"/>
<text x="500.5" y="3887" text-anchor="middle" class="wt" font-size="8">참고</text>
<text x="516" y="3888" class="sn" font-size="10" font-weight="700" fill="#333">테스트 스위트</text>
<rect x="487" y="3896" width="413" height="84" rx="6" fill="#fff" stroke="#cfeadf" stroke-width="1.2"/>
<g class="sn" font-size="10" fill="#555">
<text x="494" y="3913" textLength="399" lengthAdjust="spacingAndGlyphs">테스트 스위트(test suite)는 테스트 케이스(test case)의 모음입니다. 그리고 테스트 케이스는 테스트 대상</text>
<text x="494" y="3933" textLength="399" lengthAdjust="spacingAndGlyphs">(SUT)의 요구사항을 만족시키는 조건이 무엇인지 나타냅니다.¹⁴ 익숙하지만 다소 투박한 방법으로 이해해 보</text>
<text x="494" y="3950" textLength="399" lengthAdjust="spacingAndGlyphs">자면 프런트엔드 테스트에서 사용되는 describe는 테스트 스위트를 나타내고 test는 테스트 케이스를 나타</text>
<text x="494" y="3969" textLength="85" lengthAdjust="spacingAndGlyphs">낸다고 할 수 있습니다.¹⁵</text>
</g>
<g class="sr">
<text x="487" y="4012" textLength="144" lengthAdjust="spacingAndGlyphs">하지만 안정적인 모듈을 테스트</text>
<text x="487" y="4033" textLength="144" lengthAdjust="spacingAndGlyphs">할 때 의존하는 다른 모듈과 함</text>
<text x="487" y="4054" textLength="144" lengthAdjust="spacingAndGlyphs">께 테스트하기에 어려움이 있</text>
<text x="487" y="4075" textLength="144" lengthAdjust="spacingAndGlyphs">을 수 있습니다. 이럴 때는 테스</text>
<text x="487" y="4096" textLength="144" lengthAdjust="spacingAndGlyphs">트하려는 안정적인 모듈 SUT에</text>
<text x="487" y="4117" textLength="144" lengthAdjust="spacingAndGlyphs">SUT가 의존하는 모듈을 주입할</text>
<text x="487" y="4138" textLength="144" lengthAdjust="spacingAndGlyphs">수 있도록 설계하고, 테스트에서</text>
<text x="487" y="4158" textLength="144" lengthAdjust="spacingAndGlyphs">는 해당 모듈을 흉내 내는 다른</text>
<text x="487" y="4179" textLength="144" lengthAdjust="spacingAndGlyphs">모듈을 주입해서 테스트할 수 있</text>
<text x="487" y="4200" textLength="144" lengthAdjust="spacingAndGlyphs">습니다. 그림 16.6은 이 과정을</text>
<text x="487" y="4220" textLength="52" lengthAdjust="spacingAndGlyphs">보여줍니다.</text>
</g>
<!-- 16.6 -->
<text x="646" y="4010" class="lb" font-size="8">A</text><path d="M654,4007 H698" class="dl" marker-end="url(#a)"/><text x="702" y="4010" class="lb" font-size="8">B</text>
<text x="656" y="4023" class="lb" font-size="7">A가 B에 의존</text>
<text x="760" y="4033" class="lb" font-size="8">1. 의존성을 주입받도록 변경</text>
<rect x="694" y="4047" width="90" height="38" rx="3" class="bx"/><text x="739" y="4069" text-anchor="middle" class="lb">안정적인 모듈</text>
<ellipse cx="855" cy="4066" rx="19" ry="20" class="bx"/>
<path d="M836,4066 H786" class="dl" marker-end="url(#a)"/>
<rect x="647" y="4109" width="253" height="92" fill="none" stroke="#43b89a" stroke-width="1.5"/>
<rect x="651" y="4104" width="30" height="10" fill="#fffffc"/>
<text x="655" y="4112" class="lb" font-size="8">테스트</text>
<text x="826" y="4127" class="lb" font-size="8">2. 모듈 흉내 내기</text>
<rect x="694" y="4134" width="90" height="37" rx="3" class="bx"/><text x="739" y="4155" text-anchor="middle" class="lb">안정적인 모듈</text>
<ellipse cx="855" cy="4153" rx="19" ry="19" fill="#fff" stroke="#62c6a6" stroke-width="1.3" stroke-dasharray="2 2"/>
<path d="M836,4153 H786" class="dl" marker-end="url(#a)"/>
<text x="776" y="4187" class="lb" font-size="8">3. 흉내 낸 모듈 주입</text>
<text x="646" y="4217" class="cap" font-size="8.5"><tspan class="g">그림 16.6</tspan> 테스트하려는 모듈에 의존성을 주입하도록 설계하고 안정적인</text>
<text x="898" y="4231" text-anchor="end" class="cap" font-size="8.5">모듈이 의존하는 모듈을 테스트 내부에서 흉내 내고 주입합니다.</text>
<line x1="487" y1="4263" x2="534" y2="4263" stroke="#ccc" stroke-width="1.5"/>
<text x="487" y="4276" class="cap" font-size="7.5"><tspan class="g">14</tspan> https://en.wikipedia.org/wiki/Test_suite</text>
<text x="487" y="4290" class="cap" font-size="7.5"><tspan class="g">15</tspan> https://jestjs.io/docs/api#describeeachtablename-fn-timeout</text>

<!-- LOGO -->
<line x1="457" y1="4365" x2="492" y2="4383" stroke="#111" stroke-width="2.4"/>
<line x1="451" y1="4390" x2="498" y2="4401" stroke="#111" stroke-width="2.4"/>
<line x1="442" y1="4419" x2="505" y2="4419" stroke="#111" stroke-width="2.4"/>
<text x="474" y="4470" text-anchor="middle" class="sn" font-size="30" font-weight="700" fill="#111" textLength="90" lengthAdjust="spacingAndGlyphs">위키북스</text>
</svg>
</body></html>
